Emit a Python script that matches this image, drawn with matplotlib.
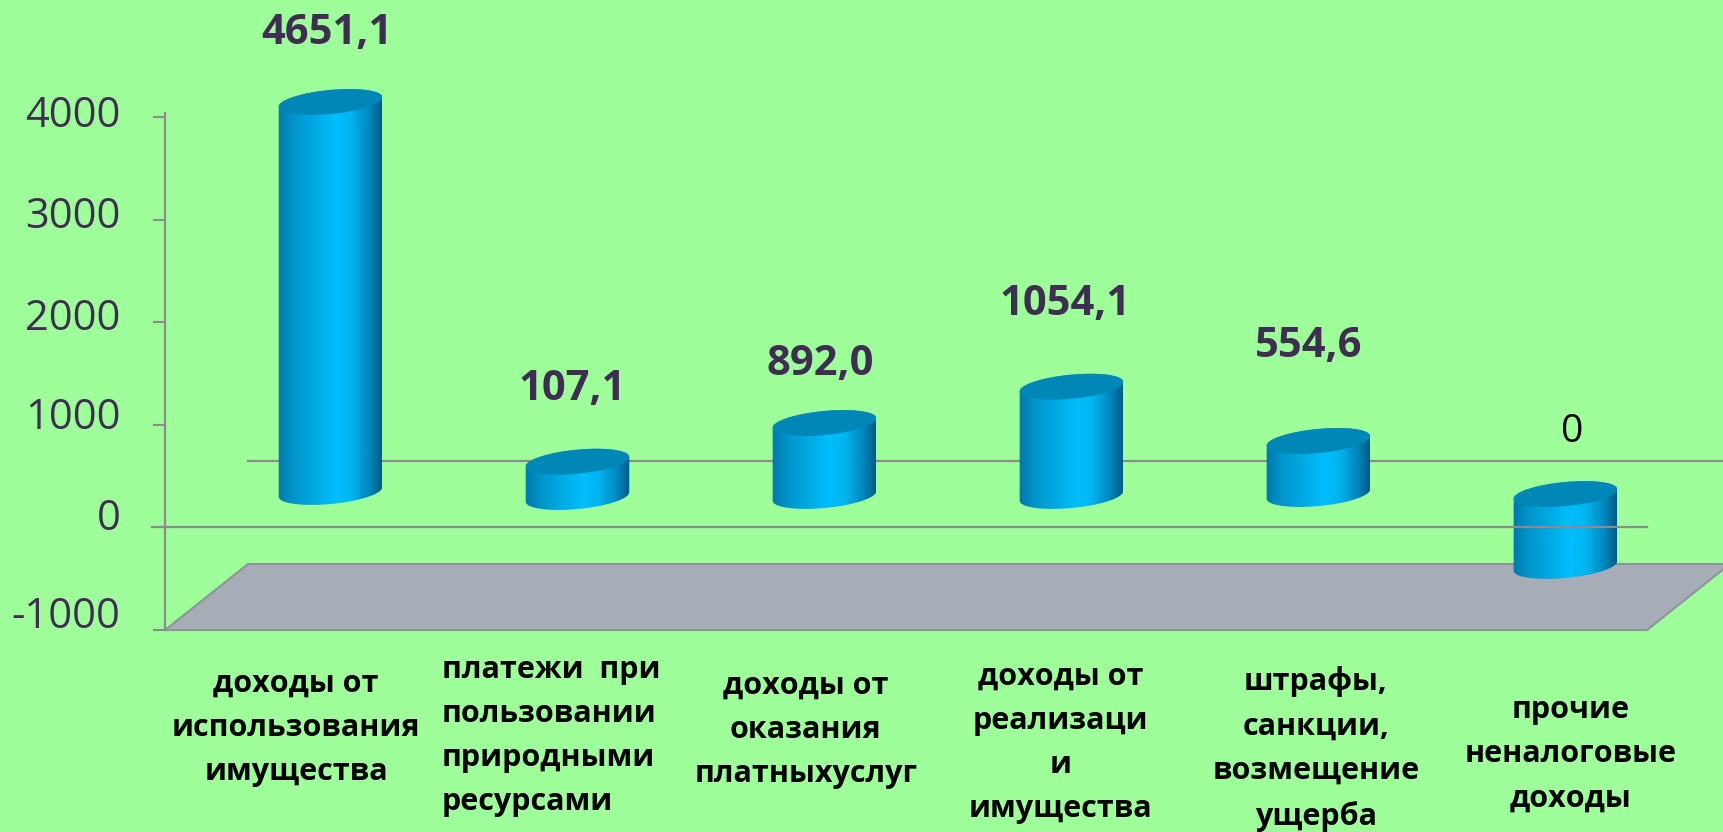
import numpy as np
import matplotlib
matplotlib.use('Agg')
import matplotlib.pyplot as plt
import matplotlib.transforms as mtrans
from matplotlib.colors import LinearSegmentedColormap
from matplotlib.patches import Polygon

# ---- data ----
categories = ['доходы от\nиспользования\nимущества',
              'платежи  при\nпользовании\nприродными\nресурсами',
              'доходы от\nоказания\nплатныхуслуг',
              'доходы от\nреализаци\nи\nимущества',
              'штрафы,\nсанкции,\nвозмещение\nущерба',
              'прочие\nненалоговые\nдоходы']
values = [4651.1, 107.1, 892.0, 1054.1, 554.6, 0]
value_labels = ['4651,1', '107,1', '892,0', '1054,1', '554,6', '0']
# where the cylinders are drawn on the value axis (3d view, so not = values)
bar_base = [346, 297, 307, 307, 326, -375]
bar_top = [4147, 641, 1018, 1372, 843, 326]
yticks = [-1000, 0, 1000, 2000, 3000, 4000]
ytick_labels = ['-1000', '0', '1000', '2000', '3000', '4000']

BG = '#9EFF9A'
TXT = '#3F2D52'
GRID = '#8C8C8C'
FLOOR = '#A7ADB7'
FONT = ['Open Sans', 'DejaVu Sans']

W, H, DPI = 1723, 832, 100
fig = plt.figure(figsize=(W / DPI, H / DPI), dpi=DPI, facecolor=BG)
ax = fig.add_axes([0, 0, 1, 1], facecolor=BG)

xlim = (-1.338, 5.638)
ylim = (-2968, 5141)
px_x = W / (xlim[1] - xlim[0])      # pixels per category
px_y = H / (ylim[1] - ylim[0])      # pixels per value unit

axis_x = -0.670
x_end = 5.330
depth_x, depth_y = 0.336, 644      # shift from front plane to back plane

# floor
floor = Polygon([(axis_x, -1000), (x_end, -1000),
                 (x_end + depth_x, -1000 + depth_y), (axis_x + depth_x, -1000 + depth_y)],
                closed=True, facecolor=FLOOR, edgecolor='#8E949B', lw=1.5, zorder=1)
ax.add_patch(floor)
# back zero line (behind bars) and front zero line (in front)
ax.plot([axis_x + depth_x, xlim[1]], [depth_y, depth_y], color=GRID, lw=1.6, zorder=1.5)
ax.plot([axis_x - 0.053, x_end], [0, 0], color=GRID, lw=1.6, zorder=6)

# cylinders
cmap = LinearSegmentedColormap.from_list('cyl', [
    (0.0, '#0078AD'), (0.15, '#0095CB'), (0.55, '#00BEFC'),
    (0.7, '#00B5F1'), (0.88, '#0087BD'), (1.0, '#005A84')])
grad = np.linspace(0, 1, 256).reshape(1, -1)

a, b = 52, 12
th = np.deg2rad(5.5)


def ell(cx, cy, t):
    ex, ey = a * np.cos(t), b * np.sin(t)
    rx = ex * np.cos(th) - ey * np.sin(th)
    ry = ex * np.sin(th) + ey * np.cos(th)
    return cx + rx / px_x, cy + ry / px_y


for i in range(len(values)):
    lo = np.linspace(np.pi, 2 * np.pi, 60)
    hi = np.linspace(0, np.pi, 60)
    bx, by = ell(i, bar_base[i], lo)
    tx, ty = ell(i, bar_top[i], hi)
    side = Polygon(np.column_stack([np.r_[bx, tx], np.r_[by, ty]]), closed=True,
                   facecolor='none', edgecolor='none', zorder=4)
    ax.add_patch(side)
    x0, x1 = i - a / px_x, i + a / px_x
    im = ax.imshow(grad, cmap=cmap, extent=[x0, x1, by.min(), ty.max()],
                   aspect='auto', zorder=4, interpolation='bilinear')
    im.set_clip_path(side)
    fx, fy = ell(i, bar_top[i], np.linspace(0, 2 * np.pi, 120))
    ax.fill(fx, fy, color='#0087B8', zorder=5, lw=0)

# value labels (offsets in px from the top face, as placed in the picture)
label_lift = [68, 72, 59, 82, 94, 62]
label_dx = [-4, -5, -4, -6, -10, 7]
for i, s in enumerate(value_labels):
    x = i + label_dx[i] / px_x
    y = bar_top[i] + label_lift[i] / px_y
    if values[i] == 0:
        ax.text(x, y, s, ha='center', va='center', fontsize=28,
                color='black', family=FONT, zorder=7)
    else:
        ax.text(x, y, s, ha='center', va='center', fontsize=30, fontweight='bold',
                color=TXT, family=FONT, zorder=7)

# category labels
cat_x = np.arange(len(categories)) * 1.032 - 0.139
cat_cy = [728, 736, 730, 743, 749, 754]   # px from top
for i, c in enumerate(categories):
    ax.text(cat_x[i], (527.5 - cat_cy[i]) / px_y, c, ha='center', va='center',
            fontsize=22, fontweight='bold', color='black', linespacing=1.62,
            family=FONT, multialignment='left' if i == 1 else 'center')

# value axis
for s in ['top', 'right', 'bottom']:
    ax.spines[s].set_visible(False)
ax.spines['left'].set_position(('data', axis_x))
ax.spines['left'].set_bounds(-1000, 4040)
ax.spines['left'].set_color(GRID)
ax.spines['left'].set_linewidth(1.6)
ax.spines['left'].set_zorder(6)
ax.set_yticks(yticks)
ax.set_yticklabels(ytick_labels, fontsize=30, color=TXT, family=FONT)
ax.tick_params(axis='y', length=9, width=1.5, color=GRID, pad=23)
ax.set_xticks([])
tick_lift = [18, 13, 11.6, 8, 7.5, 6.5]
for lab, up in zip(ax.get_yticklabels(), tick_lift):
    lab.set_transform(lab.get_transform() + mtrans.ScaledTranslation(0, up / DPI, fig.dpi_scale_trans))

ax.set_xlim(*xlim)
ax.set_ylim(*ylim)

fig.savefig('out.png', dpi=DPI, facecolor=BG)
